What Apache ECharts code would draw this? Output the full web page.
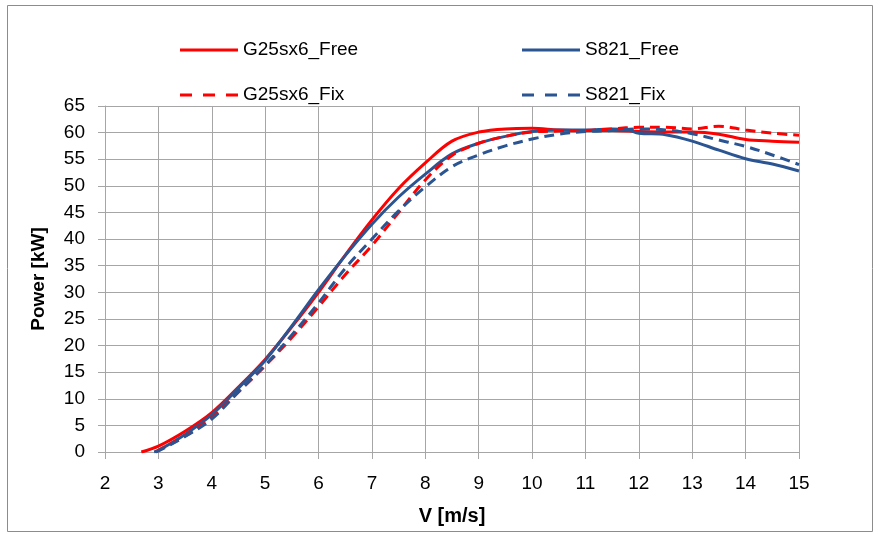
<!DOCTYPE html>
<html>
<head>
<meta charset="utf-8">
<script src="https://cdn.jsdelivr.net/npm/echarts@6/dist/echarts.min.js"></script>
<style>
html,body{margin:0;padding:0;background:#fff;}
#c{width:880px;height:534px;}
</style>
</head>
<body>
<div id="c"></div>
<script>
var seriesNames = ['G25sx6_Free', 'S821_Free', 'G25sx6_Fix', 'S821_Fix'];
var xTicks = [2, 15, 1];
var yTicks = [0, 65, 5];

var g25FreeX = [2.68, 3, 3.5, 4, 4.5, 5, 5.5, 6, 6.5, 7, 7.5, 8, 8.5, 9, 9.5, 10, 10.5, 11, 11.5, 12, 12.5, 13, 13.5, 14, 14.5, 15];
var g25FreeY = [0, 1.1, 3.9, 7.4, 12.2, 17.4, 23.5, 30, 37, 43.6, 49.5, 54.3, 58.4, 60.1, 60.7, 60.8, 60.5, 60.4, 60.4, 60.2, 60.1, 60.1, 59.7, 58.7, 58.4, 58.2];

var s821FreeX = [2.92, 3, 3.5, 4, 4.5, 5, 5.5, 6, 6.5, 7, 7.5, 8, 8.5, 9, 9.5, 10, 10.5, 11, 11.5, 11.8, 12, 12.5, 13, 13.5, 14, 14.5, 15];
var s821FreeY = [0, 0.3, 3.3, 7, 12, 17.2, 23.7, 30.5, 36.9, 42.8, 47.9, 52.2, 56, 58, 59.3, 60.2, 60.5, 60.5, 60.7, 60.5, 59.9, 59.6, 58.4, 56.7, 55.1, 54.1, 52.8];

var g25FixX = [2.95, 3, 3.5, 4, 4.5, 5, 5.5, 6, 6.5, 7, 7.5, 8, 8.5, 9, 9.5, 10, 10.5, 11, 11.5, 12, 12.5, 13, 13.5, 14, 14.5, 15];
var g25FixY = [0, 0.3, 3, 6.5, 11.3, 16.2, 21.5, 27.3, 33.3, 38.8, 45, 51.1, 55.7, 58, 59.3, 60.1, 60.3, 60.4, 60.7, 61, 61, 60.7, 61.2, 60.5, 59.9, 59.5];

var s821FixX = [2.95, 3, 3.5, 4, 4.5, 5, 5.5, 6, 6.5, 7, 7.5, 8, 8.5, 9, 9.5, 10, 10.5, 11, 11.5, 12, 12.5, 13, 13.5, 14, 14.5, 15];
var s821FixY = [0, 0.2, 2.9, 6.2, 11.3, 16.3, 22, 28, 34.5, 40, 45.3, 49.8, 53.6, 55.8, 57.5, 58.8, 59.7, 60.2, 60.4, 60.7, 60.5, 59.8, 58.6, 57.4, 55.8, 54];

function pairs(xs, ys) { return xs.map(function (x, i) { return [x, ys[i]]; }); }

var RED = '#FF0000', BLUE = '#2B5592';
var FONT = "'Liberation Sans', sans-serif";
var gridColor = '#A6A6A6';
var ICON_SOLID = 'path://M0,0H58V3H0Z';
var ICON_DASH = 'path://M0,0H12V3H0Z M23,0H35V3H23Z M46,0H58V3H46Z';

function mkSeries(name, data, color, dashed) {
  return {
    name: name, type: 'line', data: data, smooth: 0.35, symbol: 'none',
    lineStyle: { color: color, width: 3, type: dashed ? [10, 6] : 'solid' },
    itemStyle: { color: color }
  };
}
function mkLegend(name, icon, left, top) {
  return {
    data: [{ name: name, icon: icon }], left: left, top: top, itemWidth: 58, itemHeight: 3, itemGap: 0,
    textStyle: { fontFamily: FONT, fontSize: 19, color: '#000', lineHeight: 20 }
  };
}

var chart = echarts.init(document.getElementById('c'), null, { renderer: 'canvas' });
chart.setOption({
  animation: false,
  backgroundColor: '#fff',
  graphic: [{
    type: 'rect', shape: { x: 7.5, y: 5.5, width: 865, height: 526 },
    style: { fill: 'none', stroke: '#8C8C8C', lineWidth: 1 }, silent: true, z: -10
  }],
  legend: [
    mkLegend(seriesNames[0], ICON_SOLID, 175, 35),
    mkLegend(seriesNames[1], ICON_SOLID, 517, 35),
    mkLegend(seriesNames[2], ICON_DASH, 175, 80),
    mkLegend(seriesNames[3], ICON_DASH, 517, 80)
  ],
  grid: { left: 105, right: 81, top: 106, bottom: 82 },
  xAxis: {
    type: 'value', min: xTicks[0], max: xTicks[1], interval: xTicks[2],
    name: 'V [m/s]', nameLocation: 'middle', nameGap: 54,
    nameTextStyle: { fontFamily: FONT, fontSize: 20, fontWeight: 'bold', color: '#000' },
    axisLine: { show: true, lineStyle: { color: gridColor, width: 1 } },
    axisTick: { show: true, length: 7, lineStyle: { color: gridColor } },
    axisLabel: { fontFamily: FONT, fontSize: 19, color: '#000', margin: 22 },
    splitLine: { show: true, lineStyle: { color: gridColor, width: 1 } }
  },
  yAxis: {
    type: 'value', min: yTicks[0], max: yTicks[1], interval: yTicks[2],
    name: 'Power [kW]', nameLocation: 'middle', nameGap: 57,
    nameTextStyle: { fontFamily: FONT, fontSize: 19, fontWeight: 'bold', color: '#000' },
    axisLine: { show: true, lineStyle: { color: gridColor, width: 1 } },
    axisTick: { show: true, length: 7, lineStyle: { color: gridColor } },
    axisLabel: { fontFamily: FONT, fontSize: 19, color: '#000', margin: 20 },
    splitLine: { show: true, lineStyle: { color: gridColor, width: 1 } }
  },
  series: [
    mkSeries(seriesNames[0], pairs(g25FreeX, g25FreeY), RED, false),
    mkSeries(seriesNames[1], pairs(s821FreeX, s821FreeY), BLUE, false),
    mkSeries(seriesNames[2], pairs(g25FixX, g25FixY), RED, true),
    mkSeries(seriesNames[3], pairs(s821FixX, s821FixY), BLUE, true)
  ]
});
</script>
</body>
</html>
